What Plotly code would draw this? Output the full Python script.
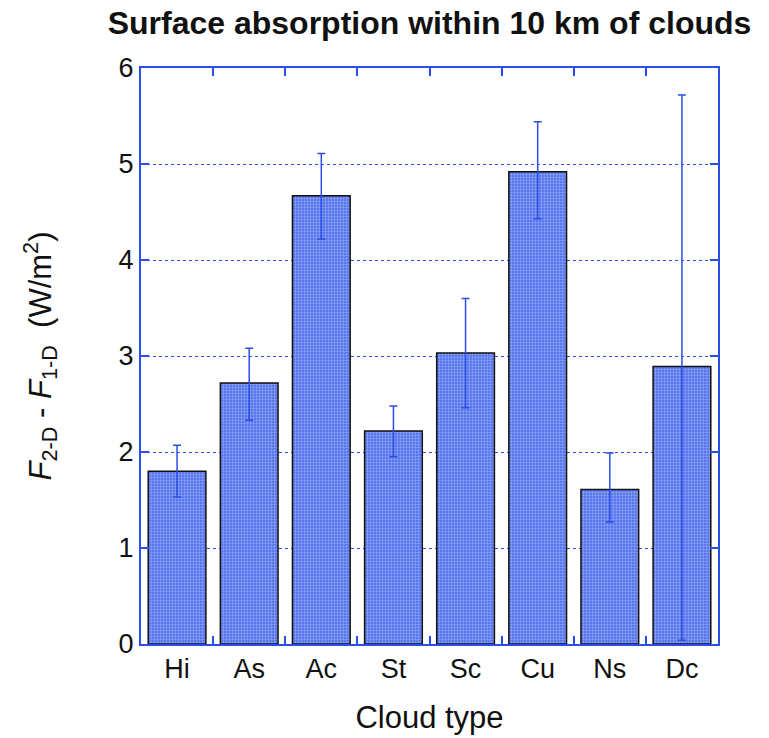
import plotly.graph_objects as go

categories = ["Hi", "As", "Ac", "St", "Sc", "Cu", "Ns", "Dc"]
values = [1.80, 2.72, 4.67, 2.22, 3.03, 4.92, 1.61, 2.89]
err_plus = [0.27, 0.36, 0.44, 0.26, 0.57, 0.52, 0.38, 2.83]
err_minus = [0.27, 0.39, 0.45, 0.27, 0.57, 0.49, 0.34, 2.85]

BLUE = "#2a4ee6"

fig = go.Figure()
fig.add_trace(go.Bar(
    x=categories, y=values,
    marker=dict(
        color="#6a84ee",
        line=dict(color="#111111", width=1.5),
        pattern=dict(shape=".", fgcolor="#d6defc", bgcolor="#5676ec", size=3, solidity=0.35),
    ),
    error_y=dict(type="data", symmetric=False, array=err_plus, arrayminus=err_minus,
                 color=BLUE, thickness=1.5, width=4),
    width=0.8,
))

fig.update_layout(
    width=769, height=738,
    margin=dict(l=141, r=51, t=68, b=94),
    paper_bgcolor="white", plot_bgcolor="white",
    font=dict(family="Liberation Sans, Arial, sans-serif", size=27, color="#111111"),
    title=dict(text="<b>Surface absorption within 10 km of clouds</b>",
               x=0.5, xref="paper", xanchor="center", y=0.984, yanchor="top",
               font=dict(size=32, color="#111111")),
    showlegend=False,
    xaxis=dict(
        title=dict(text="Cloud type", font=dict(size=31), standoff=23),
        automargin=False,
        tickfont=dict(size=27),
        tickson="boundaries", ticks="inside", ticklen=8, tickwidth=1.5, tickcolor=BLUE,
        showline=True, linecolor=BLUE, linewidth=2, mirror="ticks",
        showgrid=False, range=[-0.5, 7.5],
    ),
    yaxis=dict(
        title=dict(text="<i>F</i><sub>2-D</sub> - <i>F</i><sub>1-D</sub>  (W/m<sup>2</sup>)",
                   font=dict(size=31), standoff=58),
        automargin=False,
        tickfont=dict(size=27),
        range=[0, 6], dtick=1, tick0=0,
        ticks="inside", ticklen=8, tickwidth=1.5, tickcolor=BLUE,
        showline=True, linecolor=BLUE, linewidth=2, mirror="ticks",
        showgrid=True, gridcolor=BLUE, gridwidth=1, griddash="dot",
        zeroline=False,
    ),
)

fig.write_html("out.html")
